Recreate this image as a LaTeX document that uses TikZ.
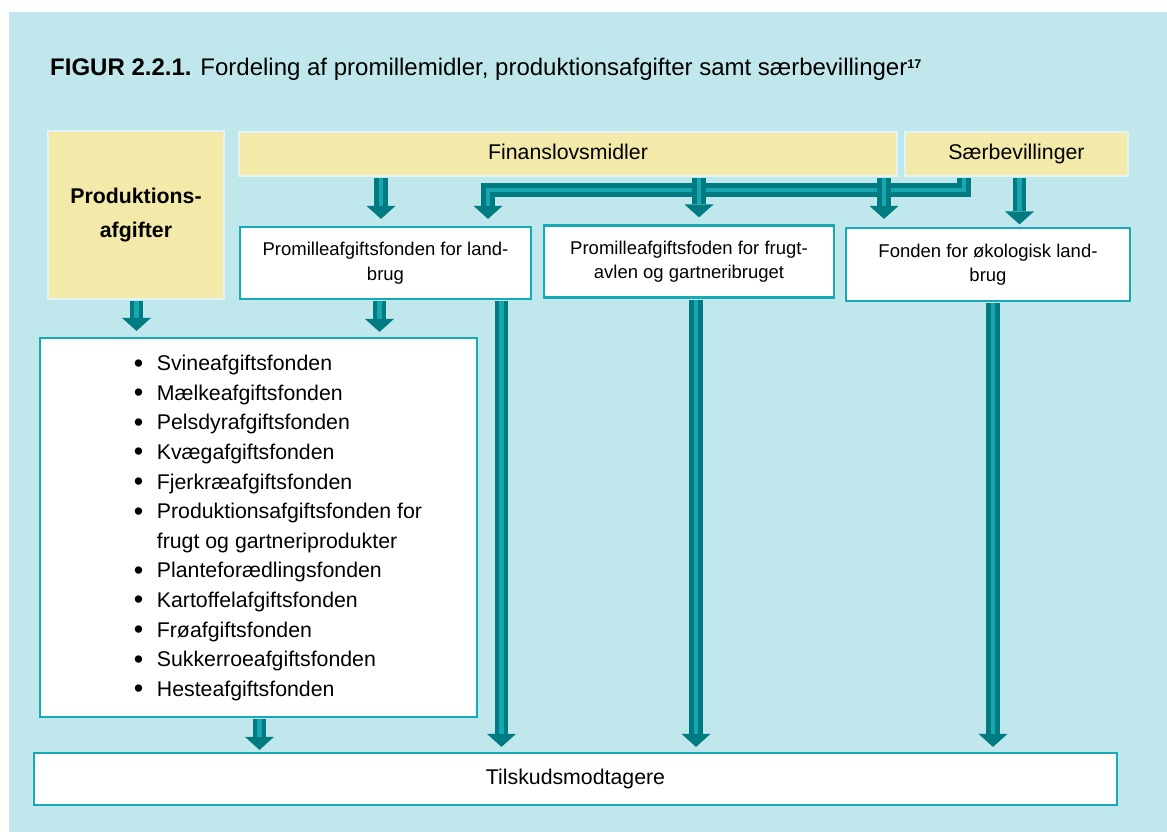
\documentclass[tikz,border=0pt]{standalone}
\usepackage{fontspec}
\setmainfont{Liberation Sans}
\usetikzlibrary{arrows.meta}
\definecolor{bgc}{RGB}{192,232,236}
\definecolor{yfill}{RGB}{243,233,168}
\definecolor{yborder}{RGB}{226,245,246}
\definecolor{wborder}{RGB}{23,170,182}
\definecolor{adark}{RGB}{0,123,130}
\definecolor{alight}{RGB}{24,166,176}
\newcommand\setfs[2]{\fontsize{#1pt}{#2pt}\selectfont}
\newcommand\fatarrow[3]{%
  \draw[fatshaft,shorten >=#1] #3;
  \draw[fatstripe,shorten >=#2] #3;}
\begin{document}
\begin{tikzpicture}[x=1pt,y=-1pt,
  ybox/.style={fill=yfill,draw=yborder,line width=2pt,inner sep=0pt},
  wbox/.style={fill=white,draw=wborder,line width=2.2pt,inner sep=0pt},
  oneline/.style={text height=15.3pt,text depth=4.5pt},
  fatshaft/.style={draw=adark,line width=13.5pt,line cap=butt,line join=miter,
    -{Triangle[width=29pt,length=13pt,line width=0pt]},shorten <=1pt},
  fatstripe/.style={draw=alight,line width=4.5pt,line cap=butt,line join=miter,shorten <=1pt}]
\useasboundingbox (0,0) rectangle (1167,832);
\fill[white] (0,0) rectangle (1167,832);
\fill[bgc] (9,12) rectangle (1167,832);

\node[anchor=base west,inner sep=0pt] (title) at (50,76)
  {\setfs{24}{28}\textbf{FIGUR 2.2.1.} Fordeling af promillemidler, produktionsafgifter samt særbevillinger\raisebox{7pt}{\setfs{12.6}{14}\bfseries 17}};

\node[ybox,minimum width=176pt,minimum height=168pt,align=center,font=\setfs{21.3}{34}\bfseries] (prod) at (136,215) {Produktions-\\afgifter};
\node[ybox,oneline,minimum width=658pt,minimum height=44pt,font=\setfs{21.3}{26}] (fin) at (568,154) {Finanslovsmidler};
\node[ybox,oneline,minimum width=223pt,minimum height=44pt,font=\setfs{21.3}{26}] (sar) at (1016.5,154) {Særbevillinger};

\node[wbox,minimum width=291pt,minimum height=72pt,align=center,font=\setfs{18.5}{25}] (land) at (385.5,263) {Promilleafgiftsfonden for land-\\brug};
\node[wbox,minimum width=290pt,minimum height=72pt,align=center,font=\setfs{18.5}{24}] (frugt) at (689,261.5) {Promilleafgiftsfoden for frugt-\\avlen og gartneribruget};
\node[wbox,minimum width=284pt,minimum height=73pt,align=center,font=\setfs{18.5}{24}] (oko) at (988,264.5) {Fonden for økologisk land-\\brug};

\node[wbox,minimum width=437pt,minimum height=379pt] (list) at (258.5,527.5)
  {\hspace*{39pt}\setfs{21.3}{29.6}%
   \begin{tabular}{@{}l@{}l@{}}
   \makebox[23pt][l]{\raisebox{-1.5pt}{\setfs{27}{27}•}} & Svineafgiftsfonden\\
   \makebox[23pt][l]{\raisebox{-1.5pt}{\setfs{27}{27}•}} & Mælkeafgiftsfonden\\
   \makebox[23pt][l]{\raisebox{-1.5pt}{\setfs{27}{27}•}} & Pelsdyrafgiftsfonden\\
   \makebox[23pt][l]{\raisebox{-1.5pt}{\setfs{27}{27}•}} & Kvægafgiftsfonden\\
   \makebox[23pt][l]{\raisebox{-1.5pt}{\setfs{27}{27}•}} & Fjerkræafgiftsfonden\\
   \makebox[23pt][l]{\raisebox{-1.5pt}{\setfs{27}{27}•}} & Produktionsafgiftsfonden for\\
   & frugt og gartneriprodukter\\
   \makebox[23pt][l]{\raisebox{-1.5pt}{\setfs{27}{27}•}} & Planteforædlingsfonden\\
   \makebox[23pt][l]{\raisebox{-1.5pt}{\setfs{27}{27}•}} & Kartoffelafgiftsfonden\\
   \makebox[23pt][l]{\raisebox{-1.5pt}{\setfs{27}{27}•}} & Frøafgiftsfonden\\
   \makebox[23pt][l]{\raisebox{-1.5pt}{\setfs{27}{27}•}} & Sukkerroeafgiftsfonden\\
   \makebox[23pt][l]{\raisebox{-1.5pt}{\setfs{27}{27}•}} & Hesteafgiftsfonden
   \end{tabular}};

\node[wbox,minimum width=1083pt,minimum height=52pt,font=\setfs{21.3}{26}] (tils) at (575.5,779) {Tilskudsmodtagere};

% elbow connector from Særbevillinger to the first fund
\coordinate (bend) at (488,190);
\fatarrow{7pt}{20pt}{(sar.south -| 964,0) |- (bend) -- (land.north -| bend)}

% Finanslovsmidler to the three funds
\fatarrow{7pt}{20pt}{(fin.south -| 381,0) -- (land.north -| 381,0)}
\fatarrow{7pt}{20pt}{(fin.south -| 699,0) -- (frugt.north -| 699,0)}
\fatarrow{8pt}{21pt}{(fin.south -| 884,0) -- (oko.north -| 884,0)}
% Særbevillinger to økologisk
\fatarrow{2.5pt}{15.5pt}{(sar.south -| 1019.5,0) -- (oko.north -| 1019.5,0)}

% to the list box
\fatarrow{6pt}{19pt}{(prod.south -| 136.5,0) -- (list.north -| 136.5,0)}
\fatarrow{5pt}{18pt}{(land.south -| 379.5,0) -- (list.north -| 379.5,0)}

% to Tilskudsmodtagere
\fatarrow{2pt}{15pt}{(list.south -| 259.5,0) -- (tils.north -| 259.5,0)}
\fatarrow{5pt}{18pt}{(land.south -| 501.5,0) -- (tils.north -| 501.5,0)}
\fatarrow{5pt}{18pt}{(frugt.south -| 696,0) -- (tils.north -| 696,0)}
\fatarrow{5pt}{18pt}{(oko.south -| 993,0) -- (tils.north -| 993,0)}
\end{tikzpicture}
\end{document}
